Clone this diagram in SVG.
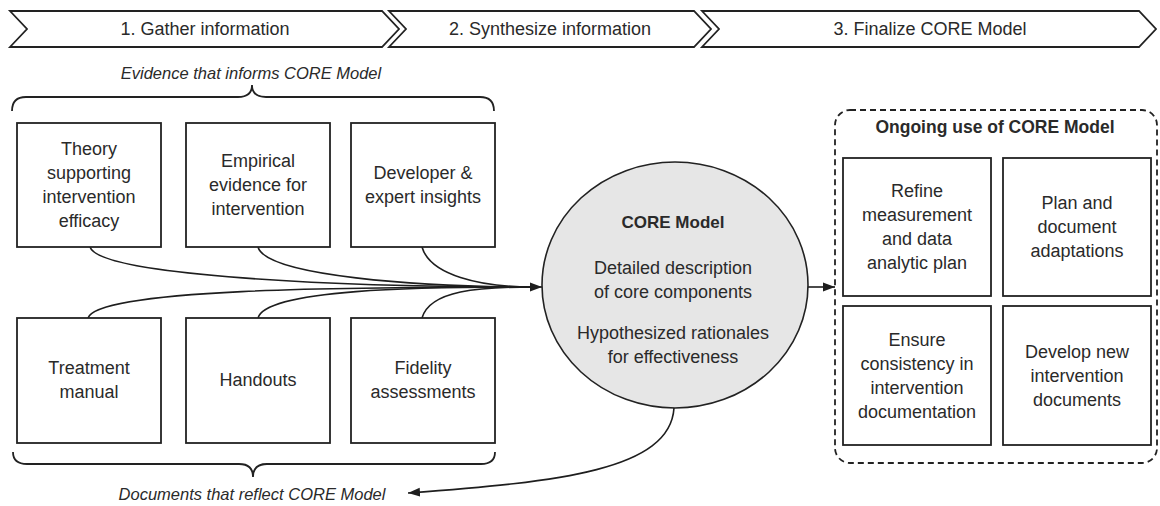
<svg xmlns="http://www.w3.org/2000/svg" width="1160" height="506" viewBox="0 0 1160 506">
<style>
  .chev { fill: #ffffff; stroke: #222222; stroke-width: 1.8; stroke-linejoin: miter; }
  .box { fill: #ffffff; stroke: #222222; stroke-width: 1.8; }
  .t { font-family: "Liberation Sans", Arial, sans-serif; font-size: 18px; fill: #2a2a2a; text-anchor: middle; }
  .b { font-weight: bold; font-size: 17px; }
  .it { font-style: italic; font-size: 16.5px; }
  .brace { fill: none; stroke: #222222; stroke-width: 1.8; }
  .conn { fill: none; stroke: #1e1e1e; stroke-width: 1.6; }
</style>
<defs>
  <marker id="arr" markerUnits="userSpaceOnUse" markerWidth="14" markerHeight="12" refX="12" refY="6" orient="auto">
    <path d="M0,1.5 L12,6 L0,10.5 Z" fill="#1e1e1e"/>
  </marker>
</defs>

<g id="stages">
  <g id="stage1">
    <path class="chev" d="M10,11 L382,11 L399,29 L382,47 L10,47 L27,29 Z"/>
    <text class="t" x="205" y="35">1. Gather information</text>
  </g>
  <g id="stage2">
    <path class="chev" d="M389,11 L694,11 L711,29 L694,47 L389,47 L406,29 Z"/>
    <text class="t" x="550" y="35">2. Synthesize information</text>
  </g>
  <g id="stage3">
    <path class="chev" d="M702,11 L1139,11 L1156,29 L1139,47 L702,47 L719,29 Z"/>
    <text class="t" x="930" y="35">3. Finalize CORE Model</text>
  </g>
</g>

<g id="evidence-label">
  <text class="t it" x="251" y="79">Evidence that informs CORE Model</text>
  <path class="brace" d="M12,111 Q12,97 26,97 L238,97 Q252,97 252,85 Q252,97 266,97 L480,97 Q494,97 494,111"/>
</g>

<g id="documents-label">
  <path class="brace" d="M13,452 Q13,464 27,464 L239,464 Q253,464 253,477 Q253,464 267,464 L481,464 Q495,464 495,452"/>
  <text class="t it" x="252" y="500">Documents that reflect CORE Model</text>
</g>

<g id="connectors">
  <path class="conn" d="M90,247 C100,276 340,287 532,287"/>
  <path class="conn" d="M258,247 C266,276 420,287 532,287"/>
  <path class="conn" d="M422,247 C430,275 480,287 532,287"/>
  <path class="conn" d="M88,318 C98,289 340,287 532,287"/>
  <path class="conn" d="M258,318 C266,289 420,287 532,287"/>
  <path class="conn" d="M422,318 C430,290 480,287 532,287"/>
  <path class="conn" d="M520,287 L542,287" marker-end="url(#arr)"/>
  <path class="conn" d="M808,287 L835,287" marker-end="url(#arr)"/>
  <path class="conn" d="M674,408 C670,470 560,482 408,493" marker-end="url(#arr)"/>
</g>

<g id="theory">
  <rect class="box" x="17" y="123" width="144" height="124"/>
  <text class="t" x="89" y="155">Theory</text>
  <text class="t" x="89" y="179">supporting</text>
  <text class="t" x="89" y="203">intervention</text>
  <text class="t" x="89" y="227">efficacy</text>
</g>
<g id="empirical">
  <rect class="box" x="186" y="123" width="144" height="124"/>
  <text class="t" x="258" y="167">Empirical</text>
  <text class="t" x="258" y="191">evidence for</text>
  <text class="t" x="258" y="215">intervention</text>
</g>
<g id="developer">
  <rect class="box" x="351" y="123" width="144" height="124"/>
  <text class="t" x="423" y="179">Developer &amp;</text>
  <text class="t" x="423" y="203">expert insights</text>
</g>
<g id="treatment">
  <rect class="box" x="17" y="318" width="144" height="125"/>
  <text class="t" x="89" y="374">Treatment</text>
  <text class="t" x="89" y="398">manual</text>
</g>
<g id="handouts">
  <rect class="box" x="186" y="318" width="144" height="125"/>
  <text class="t" x="258" y="386">Handouts</text>
</g>
<g id="fidelity">
  <rect class="box" x="351" y="318" width="144" height="125"/>
  <text class="t" x="423" y="374">Fidelity</text>
  <text class="t" x="423" y="398">assessments</text>
</g>

<g id="core-model">
  <ellipse cx="675" cy="285" rx="133" ry="123" fill="#e6e6e6" stroke="#222222" stroke-width="1.6"/>
  <text class="t b" x="673" y="228">CORE Model</text>
  <text class="t" x="673" y="274">Detailed description</text>
  <text class="t" x="673" y="298">of core components</text>
  <text class="t" x="673" y="339">Hypothesized rationales</text>
  <text class="t" x="673" y="363">for effectiveness</text>
</g>

<g id="ongoing-use">
  <rect x="835" y="110" width="322" height="353" rx="15" fill="none" stroke="#222222" stroke-width="1.8" stroke-dasharray="6 4"/>
  <text class="t b" x="995" y="133" style="font-size:17.5px">Ongoing use of CORE Model</text>
</g>
<g id="refine">
  <rect class="box" x="843" y="158" width="148" height="138"/>
  <text class="t" x="917" y="197">Refine</text>
  <text class="t" x="917" y="221">measurement</text>
  <text class="t" x="917" y="245">and data</text>
  <text class="t" x="917" y="269">analytic plan</text>
</g>
<g id="plan">
  <rect class="box" x="1003" y="158" width="148" height="138"/>
  <text class="t" x="1077" y="209">Plan and</text>
  <text class="t" x="1077" y="233">document</text>
  <text class="t" x="1077" y="257">adaptations</text>
</g>
<g id="ensure">
  <rect class="box" x="843" y="306" width="148" height="139"/>
  <text class="t" x="917" y="346">Ensure</text>
  <text class="t" x="917" y="370">consistency in</text>
  <text class="t" x="917" y="394">intervention</text>
  <text class="t" x="917" y="418">documentation</text>
</g>
<g id="develop">
  <rect class="box" x="1003" y="306" width="148" height="139"/>
  <text class="t" x="1077" y="358">Develop new</text>
  <text class="t" x="1077" y="382">intervention</text>
  <text class="t" x="1077" y="406">documents</text>
</g>
</svg>
